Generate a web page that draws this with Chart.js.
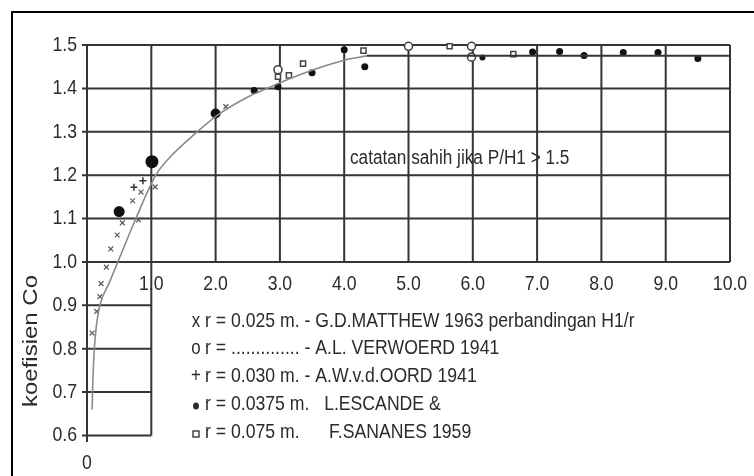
<!DOCTYPE html>
<html>
<head>
<meta charset="utf-8">
<script src="https://cdn.jsdelivr.net/npm/chart.js@4/dist/chart.umd.min.js"></script>
<style>
  html, body { margin: 0; padding: 0; background: #fff; }
  #wrap { width: 754px; height: 476px; }
</style>
</head>
<body>
<div id="wrap"><canvas id="c" width="754" height="476"></canvas></div>
<script>
// tick labels
const xTicks = [1, 2, 3, 4, 5, 6, 7, 8, 9, 10];
const yTicks = [0.6, 0.7, 0.8, 0.9, 1.0, 1.1, 1.2, 1.3, 1.4, 1.5];

// x : r = 0.025 m. - G.D.MATTHEW 1963
const matthewX = [0.08, 0.15, 0.2, 0.22, 0.3, 0.37, 0.47, 0.55, 0.71, 0.8, 0.84, 1.06, 2.16];
const matthewY = [0.836, 0.886, 0.92, 0.95, 0.988, 1.03, 1.062, 1.09, 1.141, 1.097, 1.161, 1.173, 1.358];

// o : A.L. VERWOERD 1941
const verwoerdX = [2.97, 5.0, 5.98, 5.98];
const verwoerdY = [1.443, 1.497, 1.497, 1.472];

// + : r = 0.030 m. - A.W.v.d.OORD 1941
const oordX = [0.73, 0.87];
const oordY = [1.172, 1.187];

// filled dot : r = 0.0375 m. L.ESCANDE & F.SANANES 1959
const escandeX = [0.5, 1.01, 2.0, 2.6, 2.97, 3.5, 4.0, 4.32, 6.15, 6.93, 7.35, 7.73, 8.34, 8.88, 9.5];
const escandeY = [1.116, 1.231, 1.342, 1.395, 1.404, 1.436, 1.489, 1.45, 1.471, 1.484, 1.485, 1.476, 1.483, 1.483, 1.469];

// square : r = 0.075 m.
const sananesX = [2.97, 3.14, 3.36, 4.3, 5.64, 6.63];
const sananesY = [1.427, 1.43, 1.457, 1.487, 1.497, 1.479];

// fitted curve and plateau
const curveX = [0.08, 0.09, 0.11, 0.14, 0.2, 0.34, 0.48, 0.76, 1.07, 1.3, 1.6, 2.0, 2.5, 2.8, 3.2, 3.6, 4.0, 4.35];
const curveY = [0.66, 0.72, 0.79, 0.845, 0.9, 0.95, 1.0, 1.1, 1.2, 1.243, 1.285, 1.335, 1.38, 1.4, 1.425, 1.447, 1.465, 1.475];
const plateauX = [4.35, 10];
const plateauY = [1.475, 1.475];

const legendLines = [
  'r = 0.025 m. - G.D.MATTHEW 1963 perbandingan H1/r',
  'r = .............. - A.L. VERWOERD 1941',
  'r = 0.030 m. - A.W.v.d.OORD 1941',
  'r = 0.0375 m.   L.ESCANDE &',
  'r = 0.075 m.      F.SANANES 1959'
];
const noteText = 'catatan sahih jika P/H1 > 1.5';
const yTitle = 'koefisien Co';

const FONT = "'Liberation Sans', Arial, sans-serif";
const INK = '#2b2b2b';
const SQUEEZE = 0.84; // the scan is narrower than it is tall

function pts(xs, ys) {
  return xs.map((x, i) => ({ x: x, y: ys[i] }));
}

// draw horizontally condensed text
function txt(ctx, s, x, y, sx) {
  ctx.save();
  ctx.translate(x, y);
  ctx.scale(sx || SQUEEZE, 1);
  ctx.fillText(s, 0, 0);
  ctx.restore();
}

const paperPlugin = {
  id: 'paper',
  beforeDatasetsDraw(chart) {
    const ctx = chart.ctx;
    const xs = chart.scales.x, ys = chart.scales.y;
    const px = (v) => xs.getPixelForValue(v);
    const py = (v) => ys.getPixelForValue(v);
    ctx.save();
    // frame
    ctx.strokeStyle = '#000';
    ctx.lineWidth = 2;
    ctx.beginPath();
    ctx.moveTo(12, 476);
    ctx.lineTo(12, 12);
    ctx.lineTo(754, 12);
    ctx.stroke();

    ctx.strokeStyle = '#353535';
    ctx.lineWidth = 2;
    ctx.beginPath();
    yTicks.forEach((v) => {
      const right = v >= 1.0 ? px(10) : px(1);
      ctx.moveTo(px(0) - 5, py(v));
      ctx.lineTo(right, py(v));
    });
    // left axis
    ctx.moveTo(px(0), py(1.5));
    ctx.lineTo(px(0), py(0.585));
    xTicks.forEach((v) => {
      const bottom = v === 1 ? 0.6 : 1.0;
      ctx.moveTo(px(v), py(1.5));
      ctx.lineTo(px(v), py(bottom));
    });
    ctx.stroke();

    // tick labels
    ctx.fillStyle = INK;
    ctx.font = '21px ' + FONT;
    ctx.textBaseline = 'middle';
    ctx.textAlign = 'right';
    yTicks.forEach((v) => txt(ctx, v.toFixed(1), px(0) - 10, py(v)));
    ctx.textAlign = 'center';
    xTicks.forEach((v) => txt(ctx, v.toFixed(1), px(v), py(1.0) + 22));
    txt(ctx, '0', px(0), py(0.585) + 21);

    // note
    ctx.font = '20px ' + FONT;
    ctx.textAlign = 'left';
    txt(ctx, noteText, 350, 158, 0.86);

    // y title
    ctx.save();
    ctx.translate(31, 341);
    ctx.rotate(-Math.PI / 2);
    ctx.scale(1, SQUEEZE);
    ctx.textAlign = 'center';
    ctx.font = '24px ' + FONT;
    ctx.fillText(yTitle, 0, 0);
    ctx.restore();

    // legend
    ctx.font = '21px ' + FONT;
    ctx.textAlign = 'left';
    const rows = [321, 348, 376, 404, 432];
    legendLines.forEach((t, i) => txt(ctx, t, 205, rows[i]));
    ctx.lineWidth = 1.3;
    ctx.strokeStyle = INK;
    const sx = 196;
    ctx.font = '20px ' + FONT;
    ctx.textAlign = 'center';
    txt(ctx, 'x', sx, rows[0]);
    txt(ctx, 'o', sx, rows[1]);
    txt(ctx, '+', sx, rows[2]);
    ctx.beginPath();
    ctx.ellipse(sx, rows[3] + 2, 3, 3.6, 0, 0, Math.PI * 2);
    ctx.fill();
    ctx.strokeRect(sx - 3, rows[4] - 1, 6, 6);
    ctx.restore();
  }
};

new Chart(document.getElementById('c'), {
  type: 'scatter',
  data: {
    datasets: [
      {
        type: 'line',
        data: pts(curveX, curveY),
        borderColor: '#8a8a8a',
        borderWidth: 1.6,
        pointRadius: 0,
        cubicInterpolationMode: 'monotone',
        fill: false
      },
      {
        type: 'line',
        data: pts(plateauX, plateauY),
        borderColor: '#353535',
        borderWidth: 2,
        pointRadius: 0,
        fill: false
      },
      {
        data: pts(matthewX, matthewY),
        pointStyle: 'crossRot',
        pointRadius: 3.4,
        borderColor: '#5a5a5a',
        borderWidth: 1.2
      },
      {
        data: pts(verwoerdX, verwoerdY),
        pointStyle: 'circle',
        pointRadius: 4,
        backgroundColor: '#fff',
        borderColor: '#444',
        borderWidth: 1.6
      },
      {
        data: pts(oordX, oordY),
        pointStyle: 'cross',
        pointRadius: 3.5,
        borderColor: '#333',
        borderWidth: 1.5
      },
      {
        data: pts(escandeX, escandeY),
        pointStyle: 'circle',
        pointRadius: [5.5, 6.5, 5, 3.5, 3.5, 3.5, 3.5, 3.5, 3, 3.5, 3.5, 3.5, 3.5, 3.5, 3.5],
        backgroundColor: '#111',
        borderColor: '#111',
        borderWidth: 0
      },
      {
        data: pts(sananesX, sananesY),
        pointStyle: 'rect',
        pointRadius: 3.6,
        backgroundColor: '#fff',
        borderColor: '#444',
        borderWidth: 1.5
      }
    ]
  },
  options: {
    responsive: false,
    animation: false,
    clip: false,
    layout: { padding: { left: 87, right: 24, top: 45, bottom: 34 } },
    plugins: { legend: { display: false }, tooltip: { enabled: false } },
    elements: { point: { hoverRadius: 0 } },
    datasets: { scatter: { clip: false }, line: { clip: false } },
    scales: {
      x: { type: 'linear', min: 0, max: 10, display: false },
      y: { type: 'linear', min: 0.585, max: 1.5, display: false }
    }
  },
  plugins: [paperPlugin]
});
</script>
</body>
</html>
